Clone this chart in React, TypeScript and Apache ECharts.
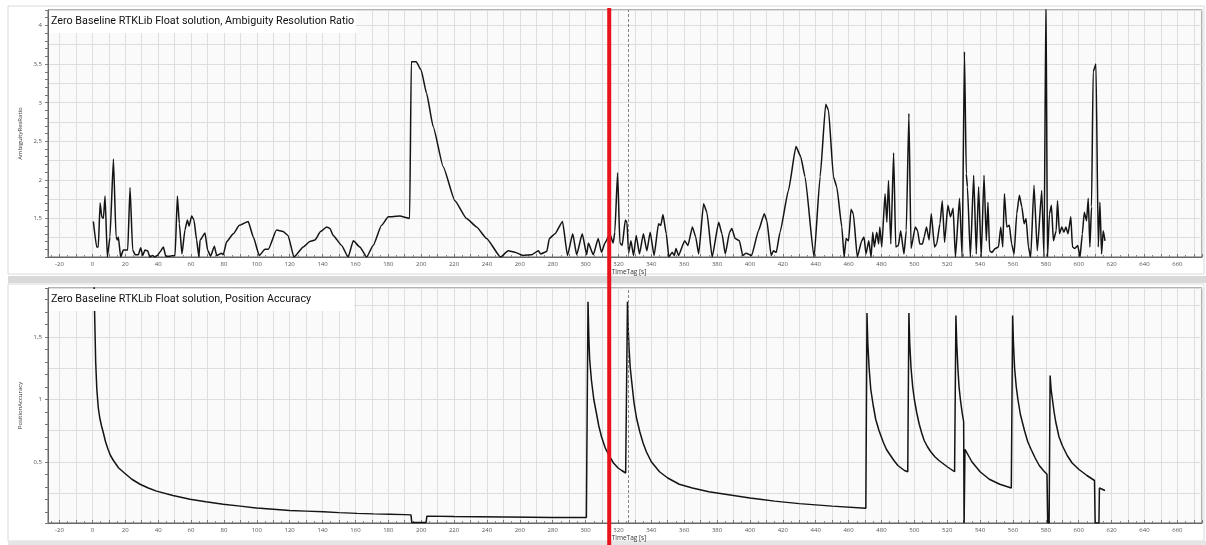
import React, { useEffect, useRef } from 'react';
import * as echarts from 'echarts';

const ratioTime = [
  0.6, 2.6, 3.6, 4.7, 5.7, 6.7, 7.7, 9.1, 10.7, 12.8, 14.4, 15.2, 15.8, 17.2, 18.8, 21.5, 22.9, 24.5, 26, 28,
  29.4, 30.6, 32, 33.6, 35, 36.7, 38, 39.5, 41, 43.2, 44.6, 47.2, 50.3, 51.7, 52.9, 54.5, 56.3, 57.8, 58.8, 60.4,
  61.8, 63.4, 64.8, 65.5, 68.5, 70.1, 71.9, 74.2, 75.6, 78.6, 79.6, 81.7, 85.7, 89.4, 94.8, 97.9, 101.5, 105, 107, 112,
  116, 119, 122.6, 128.3, 132.3, 135.4, 138.8, 142.5, 144.5, 146.5, 151.6, 155.6, 158.7, 162.7, 166.8, 170.8, 175.9, 180, 187, 193,
  194, 197, 200, 203.3, 207.3, 213.4, 220.5, 227.6, 233.7, 239.8, 248.3, 253, 257, 262, 267.3, 271.3, 272.7, 276.4, 278, 281.4,
  286, 289, 292.2, 294.6, 298, 300.7, 301.7, 304.7, 307.7, 309.7, 311.8, 314.8, 316.8, 317.8, 319.5, 320.9, 322.3, 324.2, 325.2, 326.2,
  327.6, 329.2, 330.8, 332.8, 335.2, 337.3, 339.3, 341.7, 344.4, 345.8, 347.1, 349.1, 350.7, 352.7, 354, 355, 356.6, 360.3, 362.3, 365,
  367, 368.8, 371.8, 373.8, 377, 381, 383, 385, 387.6, 389, 391, 393.6, 395.6, 397.7, 401, 405.2, 408.7, 410.3, 412.9, 414.3,
  416, 418.3, 423.4, 428, 430.9, 433.5, 439, 442.7, 446.1, 447.8, 450.8, 452.8, 455.9, 457.3, 458.5, 460, 461.5, 462.9, 465.3, 468,
  469.4, 470.6, 472.3, 473.7, 474.7, 475.7, 477.1, 478.3, 479, 480.2, 482.2, 483.3, 484.3, 485.7, 487.4, 488.7, 490.3, 491.7, 493.7, 495.1,
  496.7, 498, 500.6, 502, 503.3, 505, 506, 507.4, 509, 510.3, 512.3, 513.6, 515.6, 517, 518.4, 520.4, 522, 523.6, 525, 527.5,
  529.1, 530.5, 531.6, 532.3, 534.1, 536.1, 537.7, 539.1, 540.7, 542.4, 543.8, 544.8, 545.8, 547.2, 549.2, 551.2, 552.6, 553.8, 554.8, 556.2,
  557.8, 559.2, 560.7, 562.3, 563.9, 565.4, 566.8, 568, 569.4, 570.8, 572.8, 574.8, 577.5, 578.9, 580.1, 581, 582.2, 583.4, 584.6, 586.3,
  587.1, 588.3, 589.7, 591, 592.2, 593.5, 595.2, 596.2, 597.6, 599.4, 600.8, 602.2, 603.4, 604.8, 605.8, 606.8, 607.8, 608.8, 610.5, 611.9,
  612.9, 613.9, 614.9, 616,
];
const ratioValue = [
  1.46, 1.13, 1.13, 1.7, 1.52, 1.5, 1.79, 1.0, 1.26, 2.27, 1.26, 1.22, 1.26, 1.0, 1.09, 1.09, 1.9, 1.09, 1.03, 1.03,
  1.12, 1.02, 1.09, 1.08, 1.0, 1.02, 1.0, 1.02, 1.06, 1.13, 1.01, 1.01, 1.02, 1.79, 1.43, 1.04, 1.35, 1.48, 1.4, 1.53,
  1.48, 1.22, 1.0, 1.22, 1.31, 1.09, 1.01, 1.14, 1.02, 1.05, 1.03, 1.2, 1.3, 1.41, 1.46, 1.26, 1.02, 1.1, 1.1, 1.35,
  1.33, 1.28, 1.0, 1.13, 1.2, 1.22, 1.33, 1.39, 1.37, 1.28, 1.15, 1.0, 1.21, 1.13, 1.0, 1.15, 1.41, 1.52, 1.53, 1.5,
  3.53, 3.53, 3.42, 3.12, 2.69, 2.17, 1.73, 1.5, 1.39, 1.24, 1.0, 1.08, 1.06, 1.02, 1.03, 1.08, 1.04, 1.07, 1.24, 1.3,
  1.46, 1.02, 1.3, 1.03, 1.3, 1.03, 1.18, 1.03, 1.24, 1.06, 1.18, 1.3, 1.18, 1.32, 2.09, 1.18, 1.15, 1.48, 1.45, 1.05,
  1.21, 1.02, 1.28, 1.04, 1.3, 1.08, 1.32, 1.02, 1.43, 1.41, 1.55, 1.3, 1.0, 1.06, 1.02, 1.11, 1.02, 1.21, 1.15, 1.39,
  1.26, 1.04, 1.69, 1.58, 1.0, 1.45, 1.3, 1.04, 1.32, 1.37, 1.24, 1.21, 1.02, 1.05, 1.02, 1.34, 1.56, 1.47, 1.02, 1.08,
  1.06, 1.32, 1.86, 2.43, 2.3, 2.04, 1.0, 2.04, 2.98, 2.9, 2.04, 1.91, 1.39, 1.0, 1.24, 1.21, 1.62, 1.56, 1.0, 1.21,
  1.26, 1.04, 1.21, 1.0, 1.32, 1.13, 1.32, 1.17, 1.39, 1.13, 1.82, 1.45, 1.99, 1.17, 2.35, 1.13, 1.15, 1.34, 1.04, 1.34,
  2.86, 1.11, 1.39, 1.34, 1.17, 1.17, 1.26, 1.39, 1.22, 1.56, 1.13, 1.17, 1.43, 1.73, 1.19, 1.67, 1.52, 1.63, 1.0, 1.76,
  1.0, 3.66, 2.08, 1.91, 1.0, 2.06, 1.04, 1.91, 1.0, 2.06, 1.21, 1.71, 1.08, 1.06, 1.11, 1.13, 1.39, 1.13, 1.82, 1.39,
  1.41, 1.17, 1.04, 1.56, 1.8, 1.65, 1.43, 1.5, 1.13, 1.0, 1.93, 1.08, 1.86, 1.0, 4.4, 1.0, 1.56, 1.67, 1.21, 1.34,
  1.73, 1.3, 1.39, 1.32, 1.39, 1.3, 1.52, 1.13, 1.11, 1.15, 1.0, 1.3, 1.58, 1.47, 1.76, 1.13, 1.65, 3.4, 3.5, 1.13,
  1.71, 1.04, 1.34, 1.21,
];

const accTime = [
  1, 1.5, 2, 2.7, 3.6, 4.5, 5.5, 6.7, 8, 9.5, 11, 12.8, 16, 19.5, 24, 29, 34, 39, 49, 59.4,
  69, 79.6, 90, 100, 110, 120, 130, 140.5, 150, 161, 171, 181, 190, 193.8, 194.3, 203, 203.5, 220, 250, 280,
  300.5, 301.5, 302, 302.5, 303.6, 305, 306.6, 308, 309.7, 312, 314.7, 317, 319.8, 322, 324.4, 325.5, 326, 326.5, 327.2, 328,
  329.5, 331, 333, 335, 337, 340, 345, 350, 357, 365, 375, 385, 400, 415, 430, 450, 470.5, 471.2, 471.7, 472.5,
  473.5, 475, 476.5, 478.5, 481, 483, 485, 487.6, 490, 494, 496, 496.7, 497.2, 498, 499, 500, 501.5, 503, 504.5, 506,
  508, 510, 512.5, 515, 520, 524.5, 525.3, 525.8, 526.5, 527.2, 528, 529, 530, 530.3, 530.8, 535, 540, 545.6, 552, 559,
  559.8, 560.3, 561, 562, 563, 564.5, 567, 569, 571, 573.5, 576, 578.5, 580.7, 581.2, 582, 582.6, 583.2, 584, 585, 586,
  588, 590, 593, 596, 600, 605, 609.6, 610, 612.3, 612.6, 616,
];
const accValue = [
  1.95, 1.6, 1.3, 1.08, 0.93, 0.85, 0.79, 0.73, 0.66, 0.6, 0.55, 0.51, 0.45, 0.41, 0.36, 0.32, 0.29, 0.265, 0.23, 0.2,
  0.18, 0.16, 0.145, 0.13, 0.12, 0.11, 0.105, 0.1, 0.093, 0.087, 0.083, 0.08, 0.077, 0.075, 0.015, 0.015, 0.065, 0.062, 0.058, 0.055,
  0.054, 1.78, 1.5, 1.32, 1.15, 1.0, 0.89, 0.79, 0.7, 0.61, 0.54, 0.49, 0.45, 0.43, 0.41, 1.78, 1.55, 1.4, 1.25, 1.15,
  0.97, 0.85, 0.74, 0.65, 0.58, 0.5, 0.42, 0.37, 0.32, 0.29, 0.26, 0.24, 0.21, 0.185, 0.165, 0.145, 0.128, 1.69, 1.45, 1.25,
  1.08, 0.95, 0.84, 0.75, 0.66, 0.6, 0.56, 0.51, 0.47, 0.43, 0.42, 1.69, 1.45, 1.25, 1.1, 1.0, 0.89, 0.8, 0.73, 0.67,
  0.62, 0.58, 0.54, 0.51, 0.46, 0.42, 1.67, 1.45, 1.25, 1.1, 1.0, 0.9, 0.82, 0.01, 0.6, 0.5, 0.42, 0.36, 0.32, 0.29,
  1.67, 1.45, 1.25, 1.1, 1.0, 0.88, 0.75, 0.66, 0.6, 0.53, 0.47, 0.43, 0.4, 0.01, 0.01, 1.19, 1.08, 1.0, 0.9, 0.82,
  0.7, 0.63, 0.55, 0.49, 0.44, 0.39, 0.35, 0.01, 0.01, 0.29, 0.27,
];

const titles = [
  'Zero Baseline RTKLib Float solution, Ambiguity Resolution Ratio',
  'Zero Baseline RTKLib Float solution, Position Accuracy',
];
const yNames = ['AmbiguityResRatio', 'PositionAccuracy'];
const xName = 'TimeTag [s]';
const cursorTime = 325.8;
const markerTime = 314.4;

const zip = (a: number[], b: number[]) => a.map((t, i) => [t, b[i]]);
const isMult = (v: number, step: number) => Math.abs(v / step - Math.round(v / step)) < 1e-6;
const decimal = (v: number) => String(Math.round(v * 100) / 100).replace('.', ',');

export default function App() {
  const ref = useRef<HTMLDivElement>(null);
  useEffect(() => {
    document.body.style.margin = '0';
    const chart = echarts.init(ref.current!, undefined, { renderer: 'svg' });
    const ff = 'Open Sans';
    const labelFont = { fontFamily: ff, fontSize: 6, color: '#555' };

    const xAxis = (gridIndex: number) => ({
      type: 'value', gridIndex, min: -27, max: 675, minInterval: 10, maxInterval: 10,
      name: xName, nameLocation: 'middle', nameGap: 11,
      nameTextStyle: { fontFamily: ff, fontSize: 6.5, color: '#333', padding: [0, 0, 0, 8] },
      axisLine: { show: true, onZero: false, lineStyle: { color: '#666', width: 1 } },
      axisTick: { show: true, inside: true, length: 3, lineStyle: { color: '#777' } },
      minorTick: { show: true, splitNumber: 2, length: 2, lineStyle: { color: '#888' } },
      axisLabel: { ...labelFont, margin: 4, formatter: (v: number) => (isMult(v, 20) ? String(Math.round(v)) : '') },
      splitLine: { show: true, lineStyle: { color: '#dedede', width: 1 } },
    });
    const yMain = (gridIndex: number, min: number, max: number, name: string) => ({
      type: 'value', gridIndex, position: 'left', min, max, minInterval: 0.25, maxInterval: 0.25,
      name, nameLocation: 'middle', nameGap: 15,
      nameTextStyle: { fontFamily: ff, fontSize: 6, color: '#333' },
      axisLine: { show: true, onZero: false, lineStyle: { color: '#666' } },
      axisTick: { show: false },
      axisLabel: { ...labelFont, margin: 6, formatter: (v: number) => (isMult(v, 0.5) && v > min + 0.05 ? decimal(v) : '') },
      splitLine: { show: true, lineStyle: { color: '#dedede' } },
    });
    const yMinor = (gridIndex: number, min: number, max: number) => ({
      type: 'value', gridIndex, position: 'left', offset: 0, min, max, minInterval: 0.1, maxInterval: 0.1,
      axisLine: { show: false, onZero: false }, axisLabel: { show: false }, splitLine: { show: false },
      axisTick: { show: true, length: 3, lineStyle: { color: '#777' } },
    });
    const cursor = {
      silent: true, symbol: 'none', label: { show: false },
      lineStyle: { type: [3, 2], color: '#666', width: 0.8 },
      data: [{ xAxis: cursorTime }],
    };

    const titleBox = (i: number, y: number, w: number) => [
      { type: 'rect', z: 40, silent: true, shape: { x: 49, y, width: w, height: 22 }, style: { fill: '#ffffff' } },
      { type: 'text', z: 41, silent: true, x: 51, y: y + 4, style: { text: titles[i], fontFamily: 'Roboto', fontSize: 10.75, fill: '#111' } },
    ];
    const baseGraphic: any[] = [
      { type: 'rect', z: -5, silent: true, shape: { x: 8, y: 6, width: 1196, height: 268 }, style: { fill: '#ffffff', stroke: '#dadada' } },
      { type: 'rect', z: -5, silent: true, shape: { x: 8, y: 276, width: 1198, height: 7 }, style: { fill: '#d9d9d9' } },
      { type: 'rect', z: -5, silent: true, shape: { x: 8, y: 284, width: 1196, height: 257 }, style: { fill: '#ffffff', stroke: '#dadada' } },
      { type: 'rect', z: -5, silent: true, shape: { x: 8, y: 541, width: 1198, height: 4 }, style: { fill: '#e6e6e6' } },
      ...titleBox(0, 11, 307),
      ...titleBox(1, 289, 305),
    ];

    chart.setOption({
      animation: false,
      grid: [
        { left: 48, right: 4, top: 10, height: 247, show: true, backgroundColor: '#fafafa', borderColor: '#666', borderWidth: 1 },
        { left: 48, right: 4, top: 288, height: 235, show: true, backgroundColor: '#fafafa', borderColor: '#666', borderWidth: 1 },
      ],
      xAxis: [xAxis(0), xAxis(1)],
      yAxis: [yMain(0, 1, 4.2, yNames[0]), yMinor(0, 1, 4.2), yMain(1, 0.01, 1.89, yNames[1]), yMinor(1, 0.01, 1.89)],
      series: [
        {
          type: 'line', xAxisIndex: 0, yAxisIndex: 0, data: zip(ratioTime, ratioValue), showSymbol: false,
          smooth: 0.15, smoothMonotone: 'x',
          lineStyle: { color: '#141414', width: 1.5 }, markLine: cursor, clip: true,
        },
        {
          type: 'line', xAxisIndex: 1, yAxisIndex: 2, data: zip(accTime, accValue), showSymbol: false,
          lineStyle: { color: '#141414', width: 1.5 }, markLine: cursor, clip: true,
        },
      ],
      graphic: baseGraphic,
    });
    const px = chart.convertToPixel({ xAxisIndex: 0 }, markerTime) as number;
    chart.setOption({
      graphic: [
        ...baseGraphic,
        { type: 'rect', z: 60, silent: true, shape: { x: px - 2, y: 8, width: 4, height: 537 }, style: { fill: '#e8141c' } },
      ],
    });
    return () => chart.dispose();
  }, []);
  return <div ref={ref} style={{ position: 'fixed', left: 0, top: 0, width: 1206, height: 545 }} />;
}
